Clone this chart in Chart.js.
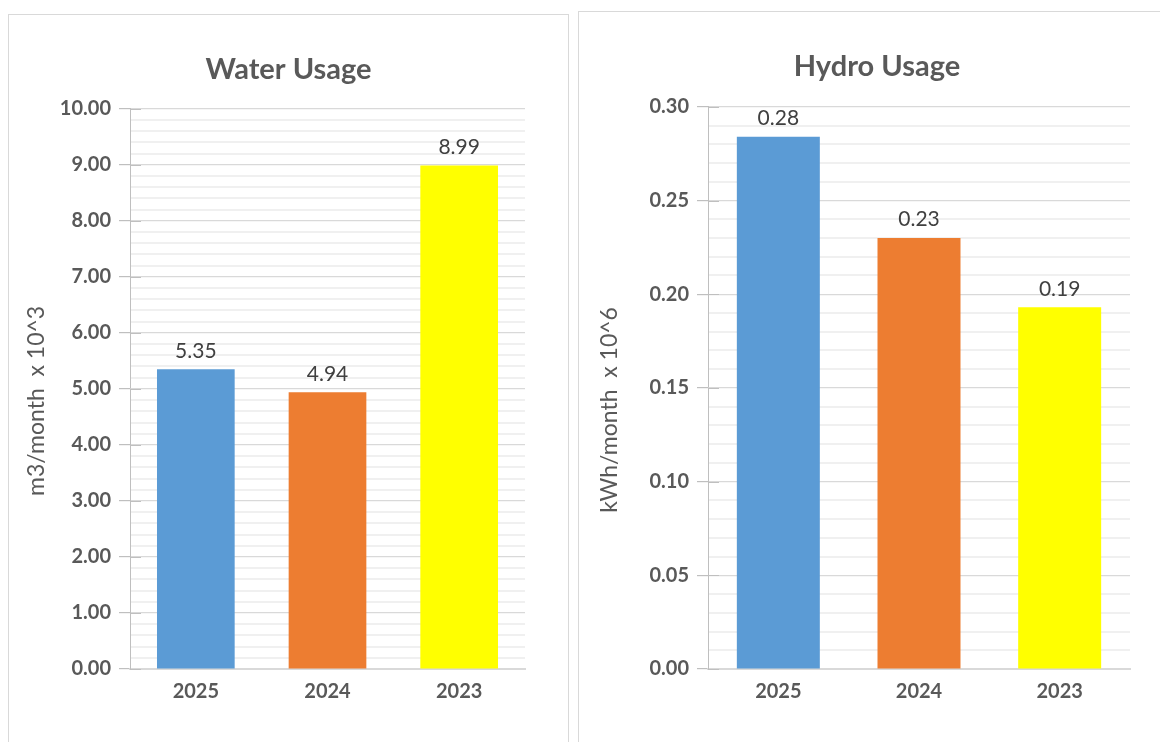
<!DOCTYPE html>
<html>
<head>
<meta charset="utf-8">
<script src="https://cdn.jsdelivr.net/npm/chart.js@4.4.1/dist/chart.umd.min.js"></script>
<style>
  html, body { margin: 0; padding: 0; background: #ffffff; overflow: hidden; width: 1160px; height: 742px; }
  .panel { position: absolute; border: 1px solid #d9d9d9; background: #fff; }
  #p1 { left: 8px; top: 14px; width: 559px; height: 740px; }
  #p2 { left: 578px; top: 11px; width: 596px; height: 740px; }
  canvas { display: block; }
</style>
</head>
<body>
<div class="panel" id="p1"><canvas id="c1" width="559" height="727"></canvas></div>
<div class="panel" id="p2"><canvas id="c2" width="596" height="730"></canvas></div>
<script>
// ---- data ----
const years = ['2025', '2024', '2023'];
const waterValues = [5.35, 4.94, 8.99];
const hydroValues = [0.284, 0.230, 0.193];
const barColors = ['#5B9BD5', '#ED7D31', '#FFFF00'];
const waterTitle = 'Water Usage';
const hydroTitle = 'Hydro Usage';
const waterAxisTitle = 'm3/month  x 10^3';
const hydroAxisTitle = 'kWh/month  x 10^6';

const FONT = "Lato, 'Open Sans', 'DejaVu Sans', sans-serif";
const TXT = '#595959';

const dataLabels = {
  id: 'dataLabels',
  afterDatasetsDraw(chart) {
    const ctx = chart.ctx;
    ctx.save();
    ctx.font = '21px ' + FONT;
    ctx.fillStyle = '#404040';
    ctx.textAlign = 'center';
    ctx.textBaseline = 'bottom';
    const meta = chart.getDatasetMeta(0);
    meta.data.forEach((bar, i) => {
      const v = chart.data.datasets[0].data[i];
      ctx.fillText(v.toFixed(2), bar.x, bar.y - 8);
    });
    ctx.restore();
  }
};

// Excel-style axis title (rotated, slightly below the plot centre) and inner major tick marks
const axisExtras = {
  id: 'axisExtras',
  afterDraw(chart, args, opts) {
    const ctx = chart.ctx;
    const ys = chart.scales.y;
    const ca = chart.chartArea;
    ctx.save();
    // inner halves of major tick marks
    ctx.strokeStyle = '#bfbfbf';
    ctx.lineWidth = 1;
    ys.ticks.forEach((t, i) => {
      if (i % 5 !== 0) return;
      const py = Math.round(ys.getPixelForValue(t.value)) + 0.5;
      ctx.beginPath();
      ctx.moveTo(ca.left, py);
      ctx.lineTo(ca.left + 11, py);
      ctx.stroke();
    });
    // axis title
    ctx.font = '23px ' + FONT;
    ctx.fillStyle = TXT;
    ctx.textAlign = 'center';
    ctx.textBaseline = 'middle';
    ctx.translate(opts.x, (ca.top + ca.bottom) / 2 + opts.shift);
    ctx.rotate(-Math.PI / 2);
    ctx.fillText(opts.text, 0, 0);
    ctx.restore();
  }
};

function makeChart(id, values, title, axisTitle, max, step, geo) {
  return new Chart(document.getElementById(id), {
    type: 'bar',
    data: {
      labels: years,
      datasets: [{
        data: values,
        backgroundColor: barColors,
        borderWidth: 0,
        categoryPercentage: 1.0,
        barPercentage: 0.59
      }]
    },
    plugins: [dataLabels, axisExtras],
    options: {
      responsive: false,
      animation: false,
      devicePixelRatio: 1,
      layout: { padding: { left: 0, right: 0, top: 0, bottom: geo.bottom } },
      plugins: {
        legend: { display: false },
        tooltip: { enabled: false },
        axisExtras: { text: axisTitle, x: geo.yTitleX, shift: geo.yTitleShift },
        title: {
          display: true,
          text: title,
          color: TXT,
          font: { family: FONT, size: 29, weight: 'bold' },
          padding: { top: geo.titleTop, bottom: geo.titleBottom }
        }
      },
      scales: {
        x: {
          grid: { display: false, drawTicks: false },
          border: { display: true, color: '#d9d9d9', width: 2 },
          ticks: { color: TXT, font: { family: FONT, size: 20, weight: 'bold' }, padding: 11 },
          afterFit(s) { s.height = geo.xHeight; }
        },
        y: {
          min: 0,
          max: max,
          border: { display: true, color: '#bfbfbf', width: 1 },
          grid: {
            color: (c) => (c.index % 5 === 0 ? '#d9d9d9' : '#f0f0f0'),
            tickColor: (c) => (c.index % 5 === 0 ? '#bfbfbf' : 'rgba(0,0,0,0)'),
            tickLength: 11,
            lineWidth: (c) => (c.index % 5 === 0 ? 1.2 : 2)
          },
          ticks: {
            stepSize: step,
            autoSkip: false,
            color: TXT,
            padding: 8,
            font: { family: FONT, size: 20, weight: 'bold' },
            callback: (v, i) => (i % 5 === 0 ? Number(v).toFixed(2) : '')
          },
          afterFit(s) { s.width = geo.yWidth; }
        },
        spacer: {
          type: 'linear',
          position: 'right',
          display: true,
          grid: { display: false, drawTicks: false },
          border: { display: false },
          ticks: { display: false },
          afterFit(s) { s.width = geo.right; }
        }
      }
    }
  });
}

// left: canvas origin (9,15); chart area 130..525, 109..669
makeChart('c1', waterValues, waterTitle, waterAxisTitle, 10, 0.2, {
  right: 559 - 516, bottom: 33, xHeight: 40,
  titleTop: 37, titleBottom: 22, yWidth: 121, yTitleX: 28, yTitleShift: 12
});
// right: canvas origin (579,12); chart area 708..1130, 107..669
makeChart('c2', hydroValues, hydroTitle, hydroAxisTitle, 0.3, 0.01, {
  right: 596 - 551, bottom: 33, xHeight: 40,
  titleTop: 37, titleBottom: 23, yWidth: 129, yTitleX: 31, yTitleShift: 22
});
</script>
</body>
</html>
